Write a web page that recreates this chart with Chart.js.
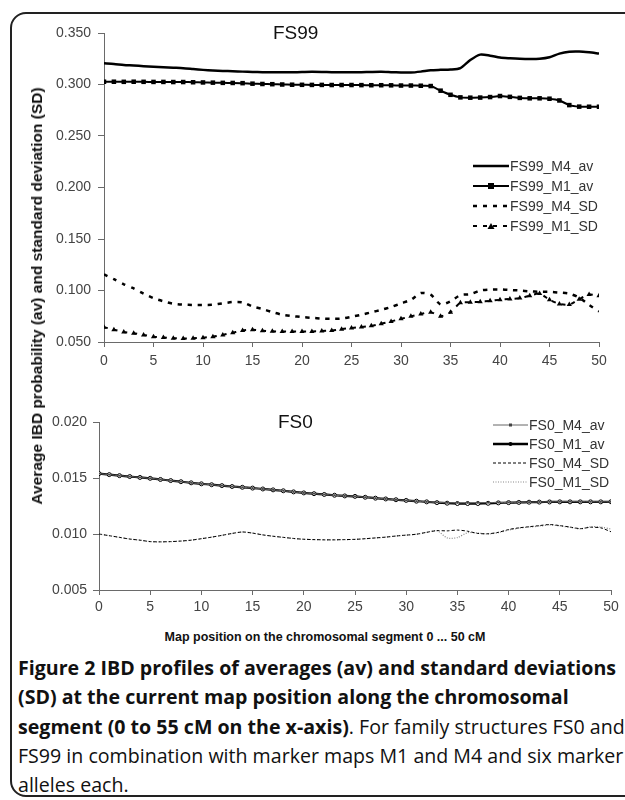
<!DOCTYPE html>
<html>
<head>
<meta charset="utf-8">
<script src="https://cdn.jsdelivr.net/npm/chart.js@4/dist/chart.umd.min.js"></script>
<style>
  html, body { margin: 0; padding: 0; background: #fff; }
  body { width: 625px; height: 800px; position: relative; overflow: hidden; font-family: "Liberation Sans", Arial, sans-serif; }
  .frame { position: absolute; left: 10px; top: 12px; width: 640px; height: 781px; border: 2px solid #222; border-radius: 16px; }
  canvas { position: absolute; left: 0; }
  #topChart { top: 0; }
  #botChart { top: 400px; }
  .ytitle { position: absolute; left: 37px; top: 296px; transform: translate(-50%, -50%) rotate(-90deg); white-space: nowrap; font-weight: bold; font-size: 15.5px; color: #111; }
  .ctitle { position: absolute; font-size: 19px; color: #111; }
  .legend { position: absolute; font-size: 14px; color: #333; }
  .legend div { height: 20px; display: flex; align-items: center; }
  .legend svg { margin-right: 1px; }
  .xtitle { position: absolute; left: 0; width: 650px; top: 630px; text-align: center; font-family: "Liberation Sans Narrow", "Arial Narrow", "Liberation Sans", Arial, sans-serif; font-weight: bold; font-size: 12.5px; color: #111; }
  .caption { position: absolute; left: 18px; top: 653px; white-space: nowrap; font-family: "Open Sans", sans-serif; font-size: 19.6px; line-height: 29.3px; color: #111; }
  .caption b { font-weight: bold; }
</style>
</head>
<body>
<div class="frame"></div>
<canvas id="topChart" width="625" height="380"></canvas>
<canvas id="botChart" width="625" height="220"></canvas>
<div class="ytitle">Average IBD probability (av) and standard deviation (SD)</div>
<div class="ctitle" style="left:273px;top:22px;">FS99</div>
<div class="ctitle" style="left:278px;top:411px;">FS0</div>

<div class="legend" style="left:473px;top:156px;">
  <div><svg width="36" height="10"><line x1="0" y1="5" x2="36" y2="5" stroke="#000" stroke-width="2.5"/></svg>FS99_M4_av</div>
  <div><svg width="36" height="10"><line x1="0" y1="5" x2="36" y2="5" stroke="#000" stroke-width="2"/><rect x="15" y="2" width="6" height="6" fill="#000"/></svg>FS99_M1_av</div>
  <div><svg width="36" height="10"><line x1="0" y1="5" x2="36" y2="5" stroke="#000" stroke-width="2.5" stroke-dasharray="4 6"/></svg>FS99_M4_SD</div>
  <div><svg width="36" height="10"><line x1="0" y1="5" x2="36" y2="5" stroke="#000" stroke-width="2" stroke-dasharray="4 6"/><polygon points="14.5,8 18,2 21.5,8" fill="#000"/></svg>FS99_M1_SD</div>
</div>

<div class="legend" style="left:493px;top:415px;">
  <div style="height:19px"><svg width="35" height="10"><line x1="0" y1="5" x2="35" y2="5" stroke="#666" stroke-width="1"/><rect x="16" y="3.5" width="3" height="3" fill="#444"/></svg>FS0_M4_av</div>
  <div style="height:19px"><svg width="35" height="10"><line x1="0" y1="5" x2="35" y2="5" stroke="#000" stroke-width="2.5"/><circle cx="17.5" cy="5" r="2" fill="#000"/></svg>FS0_M1_av</div>
  <div style="height:19px"><svg width="35" height="10"><line x1="0" y1="5" x2="35" y2="5" stroke="#000" stroke-width="1" stroke-dasharray="3 2"/></svg>FS0_M4_SD</div>
  <div style="height:19px"><svg width="35" height="10"><line x1="0" y1="5" x2="35" y2="5" stroke="#888" stroke-width="1.2" stroke-dasharray="1 1.5"/></svg>FS0_M1_SD</div>
</div>

<div class="xtitle">Map position on the chromosomal segment 0 ... 50 cM</div>
<div class="caption"><b>Figure 2 IBD profiles of averages (av) and standard deviations</b><br><b>(SD) at the current map position along the chromosomal</b><br><b>segment (0 to 55 cM on the x-axis)</b>. For family structures FS0 and<br>FS99 in combination with marker maps M1 and M4 and six marker<br>alleles each.</div>

<script>
// map positions (cM), one value per position
const positions = [0,1,2,3,4,5,6,7,8,9,10,11,12,13,14,15,16,17,18,19,20,21,22,23,24,25,26,27,28,29,30,31,32,33,34,35,36,37,38,39,40,41,42,43,44,45,46,47,48,49,50];
const xTicks = [0, 5, 10, 15, 20, 25, 30, 35, 40, 45, 50];

// FS99
const fs99M4av = [0.3206,0.3200,0.3190,0.3185,0.3178,0.3172,0.3168,0.3163,0.3158,0.3150,0.3142,0.3136,0.3132,0.3128,0.3125,0.3122,0.3120,0.3118,0.3118,0.3119,0.3121,0.3123,0.3122,0.3120,0.3119,0.3118,0.3120,0.3122,0.3123,0.3120,0.3117,0.3116,0.3125,0.3138,0.3142,0.3145,0.3160,0.3238,0.3290,0.3280,0.3262,0.3255,0.3250,0.3248,0.3250,0.3265,0.3300,0.3318,0.3320,0.3312,0.3300];
const fs99M1av = [0.3027,0.3027,0.3026,0.3027,0.3026,0.3025,0.3025,0.3024,0.3024,0.3022,0.3020,0.3018,0.3016,0.3015,0.3013,0.3008,0.3005,0.3003,0.3000,0.2998,0.2997,0.2996,0.2996,0.2995,0.2995,0.2995,0.2994,0.2993,0.2993,0.2992,0.2990,0.2990,0.2988,0.2985,0.2940,0.2900,0.2875,0.2872,0.2873,0.2878,0.2888,0.2880,0.2870,0.2866,0.2866,0.2862,0.2845,0.2800,0.2785,0.2784,0.2784];
const fs99M4sd = [0.1157,0.1110,0.1060,0.1020,0.0970,0.0925,0.0895,0.0872,0.0863,0.0860,0.0860,0.0862,0.0875,0.0888,0.0885,0.0845,0.0820,0.0790,0.0765,0.0752,0.0742,0.0735,0.0728,0.0726,0.0728,0.0745,0.0765,0.0788,0.0812,0.0840,0.0875,0.0910,0.0975,0.0960,0.0865,0.0895,0.0955,0.0965,0.1000,0.1010,0.1010,0.1005,0.1000,0.0992,0.0987,0.0987,0.0980,0.0970,0.0930,0.0860,0.0797];
const fs99M1sd = [0.0644,0.0620,0.0598,0.0585,0.0568,0.0552,0.0543,0.0536,0.0535,0.0536,0.0542,0.0552,0.0569,0.0590,0.0612,0.0618,0.0610,0.0604,0.0602,0.0602,0.0602,0.0603,0.0606,0.0612,0.0625,0.0636,0.0645,0.0657,0.0678,0.0700,0.0725,0.0749,0.0772,0.0790,0.0750,0.0790,0.0880,0.0885,0.0890,0.0900,0.0910,0.0918,0.0926,0.0950,0.0970,0.0910,0.0870,0.0863,0.0916,0.0960,0.0950];

// FS0
const fs0M4av = [0.01539,0.01530,0.01521,0.01513,0.01505,0.01497,0.01487,0.01477,0.01467,0.01457,0.01448,0.01440,0.01432,0.01424,0.01417,0.01410,0.01402,0.01394,0.01386,0.01376,0.01367,0.01360,0.01353,0.01346,0.01340,0.01336,0.01328,0.01320,0.01313,0.01306,0.01300,0.01293,0.01287,0.01282,0.01279,0.01278,0.01278,0.01279,0.01280,0.01281,0.01282,0.01283,0.01285,0.01286,0.01287,0.01288,0.01289,0.01288,0.01288,0.01287,0.01288];
const fs0M1av = [0.01539,0.01530,0.01521,0.01513,0.01505,0.01497,0.01487,0.01477,0.01467,0.01457,0.01448,0.01440,0.01432,0.01424,0.01417,0.01410,0.01402,0.01394,0.01386,0.01376,0.01367,0.01360,0.01353,0.01346,0.01340,0.01336,0.01328,0.01320,0.01313,0.01306,0.01300,0.01293,0.01287,0.01280,0.01275,0.01272,0.01272,0.01272,0.01274,0.01278,0.01280,0.01282,0.01284,0.01285,0.01286,0.01287,0.01287,0.01287,0.01287,0.01287,0.01288];
const fs0M4sd = [0.01000,0.00985,0.00970,0.00955,0.00945,0.00932,0.00930,0.00932,0.00937,0.00945,0.00958,0.00972,0.00988,0.01005,0.01018,0.01008,0.00992,0.00980,0.00970,0.00960,0.00953,0.00950,0.00948,0.00948,0.00950,0.00952,0.00958,0.00965,0.00972,0.00982,0.00990,0.00998,0.01015,0.01030,0.01028,0.01035,0.01025,0.01005,0.01002,0.01015,0.01040,0.01055,0.01065,0.01075,0.01085,0.01075,0.01062,0.01048,0.01060,0.01055,0.01020];
const fs0M1sd = [0.01000,0.00985,0.00970,0.00955,0.00945,0.00932,0.00930,0.00932,0.00937,0.00945,0.00958,0.00972,0.00988,0.01005,0.01018,0.01008,0.00992,0.00980,0.00970,0.00960,0.00953,0.00950,0.00948,0.00948,0.00950,0.00952,0.00958,0.00965,0.00972,0.00982,0.00990,0.00998,0.01015,0.01030,0.00965,0.00968,0.01012,0.01008,0.01000,0.01012,0.01035,0.01052,0.01062,0.01070,0.01080,0.01072,0.01060,0.01045,0.01065,0.01062,0.01045];

const pts = (vals) => positions.map((x, i) => ({ x, y: vals[i] }));

function axes(yMin, yMax, yStep, yWidth, xHeight, yPad, xPad) {
  return {
    x: {
      type: 'linear', min: 0, max: 50,
      afterBuildTicks: (s) => { s.ticks = xTicks.map(v => ({ value: v })); },
      afterFit: (s) => { s.height = xHeight; },
      border: { display: true, color: '#6a6a6a', width: 1 },
      grid: { display: true, drawOnChartArea: false, drawTicks: true, tickLength: 5, color: '#6a6a6a' },
      ticks: { color: '#444', font: { family: 'Liberation Sans', size: 14 }, padding: xPad, maxRotation: 0 }
    },
    y: {
      min: yMin, max: yMax,
      ticks: { stepSize: yStep, color: '#444', font: { family: 'Liberation Sans', size: 14 }, padding: yPad,
               callback: (v) => v.toFixed(3) },
      afterFit: (s) => { s.width = yWidth; },
      border: { display: true, color: '#6a6a6a', width: 1 },
      grid: { display: true, drawOnChartArea: false, drawTicks: true, tickLength: 6, color: '#6a6a6a' }
    }
  };
}

const common = {
  responsive: false,
  animation: false,
  devicePixelRatio: 1,
  plugins: { legend: { display: false }, tooltip: { enabled: false } },
  elements: { line: { tension: 0.25 } }
};

new Chart(document.getElementById('topChart'), {
  type: 'line',
  data: {
    datasets: [
      { label: 'FS99_M4_av', data: pts(fs99M4av), borderColor: '#000', borderWidth: 2.5, pointRadius: 0 },
      { label: 'FS99_M1_av', data: pts(fs99M1av), borderColor: '#000', borderWidth: 2, pointStyle: 'rect', pointRadius: 3.2, pointBackgroundColor: '#000', pointBorderWidth: 0 },
      { label: 'FS99_M4_SD', data: pts(fs99M4sd), borderColor: '#000', borderWidth: 2.5, borderDash: [4, 6], pointRadius: 0 },
      { label: 'FS99_M1_SD', data: pts(fs99M1sd), borderColor: '#000', borderWidth: 2, borderDash: [4, 6], pointStyle: 'triangle', pointRadius: 3, pointBackgroundColor: '#000', pointBorderWidth: 0 }
    ]
  },
  options: Object.assign({}, common, {
    layout: { padding: { top: 33, right: 26, left: 0, bottom: 0 } },
    scales: axes(0.05, 0.35, 0.05, 104, 38, 7, 6)
  })
});

new Chart(document.getElementById('botChart'), {
  type: 'line',
  data: {
    datasets: [
      { label: 'FS0_M4_av', data: pts(fs0M4av), borderColor: '#666', borderWidth: 1, pointStyle: 'rect', pointRadius: 1.3, pointBackgroundColor: '#444', pointBorderWidth: 0 },
      { label: 'FS0_M1_av', data: pts(fs0M1av), borderColor: '#000', borderWidth: 2.2, pointStyle: 'circle', pointRadius: 2, pointBackgroundColor: '#fff', pointBorderColor: '#000', pointBorderWidth: 1 },
      { label: 'FS0_M4_SD', data: pts(fs0M4sd), borderColor: '#000', borderWidth: 1, borderDash: [3, 2], pointRadius: 0 },
      { label: 'FS0_M1_SD', data: pts(fs0M1sd), borderColor: '#888', borderWidth: 1.2, borderDash: [1, 1.5], pointRadius: 0 }
    ]
  },
  options: Object.assign({}, common, {
    layout: { padding: { top: 22, right: 14, left: 0, bottom: 0 } },
    scales: axes(0.005, 0.020, 0.005, 99, 30, 6, 4)
  })
});
</script>
</body>
</html>
